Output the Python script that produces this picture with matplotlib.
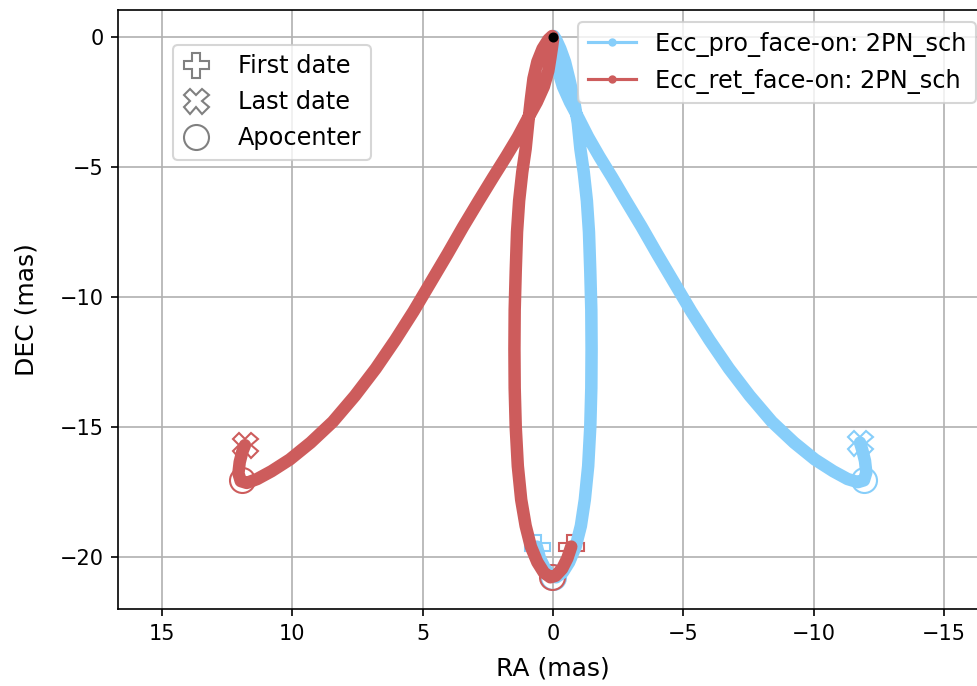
import matplotlib
matplotlib.use("Agg")
import matplotlib.pyplot as plt

# sky track of the retrograde orbit (RA, DEC in mas)
ret_ra = [-0.70, -0.55, -0.35, -0.10, 0.10, 0.35, 0.60, 0.85, 1.05, 1.22,
          1.35, 1.43, 1.47, 1.48, 1.47, 1.43, 1.38, 1.30, 1.18, 1.05,
          0.95, 0.85, 0.75, 0.60, 0.40, 0.18, 0.03,
          0.00, 0.04, 0.10, 0.18, 0.35, 0.62, 0.95, 1.35, 1.80, 2.30,
          2.85, 3.45, 4.05, 4.70, 5.35, 6.05, 6.80, 7.60, 8.45, 9.30,
          10.10, 10.80, 11.35, 11.75, 11.98, 12.07, 12.02, 11.92, 11.82]
ret_dec = [-19.60, -20.05, -20.45, -20.72, -20.78, -20.60, -20.20, -19.60, -18.80, -17.80,
           -16.50, -15.00, -13.50, -12.00, -10.50, -9.00, -7.50, -6.30, -5.20, -4.30,
           -3.30, -2.40, -1.60, -0.95, -0.45, -0.10, 0.04,
           -0.10, -0.40, -0.80, -1.30, -1.90, -2.50, -3.10, -3.85, -4.60, -5.40,
           -6.30, -7.30, -8.35, -9.45, -10.55, -11.65, -12.75, -13.80, -14.80, -15.60,
           -16.25, -16.70, -17.00, -17.15, -17.08, -16.78, -16.35, -15.95, -15.70]

# prograde orbit
pro_ra = [0.62, 0.50, 0.30, 0.08, -0.12, -0.37, -0.62, -0.87, -1.07, -1.22,
          -1.35, -1.43, -1.47, -1.48, -1.47, -1.43, -1.38, -1.30, -1.18, -1.05,
          -0.95, -0.80, -0.62, -0.46, -0.28, -0.12, -0.03,
          0.00, -0.04, -0.10, -0.20, -0.38, -0.65, -0.97, -1.35, -1.78, -2.27,
          -2.80, -3.40, -4.00, -4.65, -5.30, -6.00, -6.75, -7.55, -8.40, -9.25,
          -10.05, -10.75, -11.30, -11.70, -11.93, -12.02, -11.97, -11.87, -11.78]
pro_dec = [-19.60, -20.05, -20.45, -20.72, -20.78, -20.60, -20.20, -19.60, -18.80, -17.80,
           -16.50, -15.00, -13.50, -12.00, -10.50, -9.00, -7.50, -6.30, -5.20, -4.30,
           -3.30, -2.40, -1.60, -0.95, -0.45, -0.10, 0.04,
           -0.10, -0.40, -0.80, -1.30, -1.90, -2.50, -3.10, -3.85, -4.60, -5.40,
           -6.30, -7.30, -8.35, -9.45, -10.55, -11.65, -12.75, -13.80, -14.80, -15.60,
           -16.25, -16.70, -17.00, -17.12, -17.05, -16.75, -16.30, -15.90, -15.60]

# special epochs: (RA, DEC)
pro_first = (0.62, -19.60)
ret_first = (-0.70, -19.60)
pro_last = (-11.78, -15.60)
ret_last = (11.82, -15.70)
pro_apo = [(0.0, -20.78), (-11.92, -17.02)]
ret_apo = [(0.05, -20.78), (11.95, -17.05)]

labels = ["Ecc_pro_face-on: 2PN_sch", "Ecc_ret_face-on: 2PN_sch"]
colors = ["lightskyblue", "indianred"]

fig = plt.figure(figsize=(978 / 150, 686 / 150), dpi=150)
ax = fig.add_axes([118 / 978, 77 / 686, 870 / 978, 599 / 686])

tracks = [(pro_ra, pro_dec, pro_first, pro_last, pro_apo),
          (ret_ra, ret_dec, ret_first, ret_last, ret_apo)]
for (ra, dec, first, last, apo), col, lab in zip(tracks, colors, labels):
    ax.plot(first[0], first[1], 'P', ms=12, mfc='none', mec=col, mew=1.0, zorder=2)
    ax.plot(last[0], last[1], 'X', ms=12, mfc='none', mec=col, mew=1.0, zorder=2)
    for a in apo:
        ax.plot(a[0], a[1], 'o', ms=12, mfc='none', mec=col, mew=1.0, zorder=2)
    ax.plot(ra, dec, '-', color=col, lw=6.0, solid_capstyle='round',
            solid_joinstyle='round', zorder=3)
    # thin proxy for the legend
    ax.plot([], [], '.-', color=col, lw=1.5, ms=6, label=lab)

ax.plot(0, 0, 'ko', ms=3.8, zorder=5)

ax.set_xlim(16.69, -16.69)
ax.set_ylim(-22.0, 1.04)
ax.grid(True)
ax.set_axisbelow(True)
ax.set_xlabel("RA (mas)", fontsize=12, labelpad=6)
ax.set_ylabel("DEC (mas)", fontsize=12, labelpad=10)

leg2 = ax.legend(loc='upper right', fontsize=11.5)

# marker legend
h1, = ax.plot([], [], 'P', ms=12, mfc='none', mec='gray', mew=1.0, ls='none')
h2, = ax.plot([], [], 'X', ms=12, mfc='none', mec='gray', mew=1.0, ls='none')
h3, = ax.plot([], [], 'o', ms=12, mfc='none', mec='gray', mew=1.0, ls='none')
leg1 = ax.legend([h1, h2, h3], ["First date", "Last date", "Apocenter"],
                 loc='upper left', bbox_to_anchor=(0.0632, 0.942),
                 borderaxespad=0, fontsize=11.5, handlelength=1.1,
                 handletextpad=1.2)
ax.add_artist(leg2)

fig.savefig("out.png", dpi=150)
